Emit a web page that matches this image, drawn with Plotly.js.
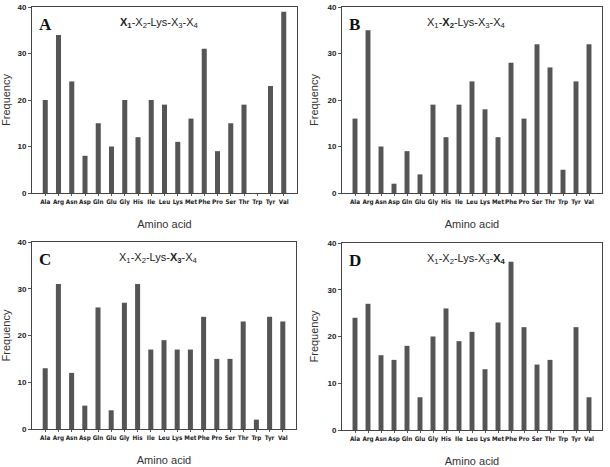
<!DOCTYPE html>
<html><head><meta charset="utf-8">
<script src="https://cdn.plot.ly/plotly-3.0.1.min.js"></script>
<style>html,body{margin:0;padding:0;background:#fff}#c{width:610px;height:467px}</style>
</head><body><div id="c"></div>
<script>
const aminoAcids = ["Ala","Arg","Asn","Asp","Gln","Glu","Gly","His","Ile","Leu","Lys","Met","Phe","Pro","Ser","Thr","Trp","Tyr","Val"];
const freqX1 = [20,34,24,8,15,10,20,12,20,19,11,16,31,9,15,19,0,23,39];
const freqX2 = [16,35,10,2,9,4,19,12,19,24,18,12,28,16,32,27,5,24,32];
const freqX3 = [13,31,12,5,26,4,27,31,17,19,17,17,24,15,15,23,2,24,23];
const freqX4 = [24,27,16,15,18,7,20,26,19,21,13,23,36,22,14,15,0,22,7];
const panelLetters = ["A","B","C","D"];
const panelTitles = [
  "<b>X<sub>1</sub></b>-X<sub>2</sub>-Lys-X<sub>3</sub>-X<sub>4</sub>",
  "X<sub>1</sub>-<b>X<sub>2</sub></b>-Lys-X<sub>3</sub>-X<sub>4</sub>",
  "X<sub>1</sub>-X<sub>2</sub>-Lys-<b>X<sub>3</sub></b>-X<sub>4</sub>",
  "X<sub>1</sub>-X<sub>2</sub>-Lys-X<sub>3</sub>-<b>X<sub>4</sub></b>"
];
const series = [freqX1, freqX2, freqX3, freqX4];

const W = 610, H = 467;
const boxes = [
  {l:32, r:297, t:7, b:193},
  {l:342, r:602, t:7, b:193},
  {l:32, r:296, t:242, b:429},
  {l:342, r:602, t:243, b:430}
];
const data = [], layout = {
  width: W, height: H, margin:{l:0,r:0,t:0,b:0}, showlegend:false,
  paper_bgcolor:"#fff", plot_bgcolor:"#fff", bargap:0.62,
  font:{family:"Liberation Sans, Arial, sans-serif", color:"#222"},
  annotations: []
};
series.forEach((vals, i) => {
  const n = i === 0 ? "" : String(i+1);
  const bx = boxes[i];
  data.push({type:"bar", x:aminoAcids.map((_,k)=>k), y:vals, xaxis:"x"+n, yaxis:"y"+n,
    marker:{color:"#555555", line:{width:0}}, hoverinfo:"y"});
  const xd = [bx.l/W, bx.r/W], yd = [1-bx.b/H, 1-bx.t/H];
  layout["xaxis"+n] = {domain:xd, anchor:"y"+n, range:[-1,19], tickmode:"array",
    tickvals:aminoAcids.map((_,k)=>k), ticktext:aminoAcids,
    tickfont:{size:6.3, family:"DejaVu Sans Condensed, Liberation Sans", color:"#222", weight:"bold"},
    ticks:"outside", ticklen:2, tickcolor:"#555", showline:true, mirror:true, linecolor:"#444", linewidth:1,
    showgrid:false, zeroline:false, tickangle:0, automargin:false,
    title:{text:"Amino acid", font:{size:11, color:"#333"}, standoff:15}};
  layout["yaxis"+n] = {domain:yd, anchor:"x"+n, range:[0,40], dtick:10,
    tickfont:{size:8, family:"Liberation Sans", color:"#222", weight:"bold"},
    ticks:"outside", ticklen:3, tickcolor:"#555", showline:true, mirror:true, linecolor:"#444", linewidth:1,
    showgrid:false, zeroline:false, automargin:false,
    title:{text:"Frequency", font:{size:11, color:"#333"}, standoff:6}};
  layout.annotations.push({xref:"paper", yref:"paper", x:(bx.l+5)/W, y:1-(bx.t+6)/H,
    xanchor:"left", yanchor:"top", showarrow:false, text:"<b>"+panelLetters[i]+"</b>",
    font:{family:"Liberation Serif, Times New Roman, serif", size:17, color:"#111"}});
  layout.annotations.push({xref:"paper", yref:"paper", x:(bx.l+(bx.r-bx.l)*0.48)/W, y:1-(bx.t+7)/H,
    xanchor:"center", yanchor:"top", showarrow:false, text:panelTitles[i],
    font:{size:11, color:"#222"}});
});
Plotly.newPlot("c", data, layout, {staticPlot:true});
</script></body></html>
